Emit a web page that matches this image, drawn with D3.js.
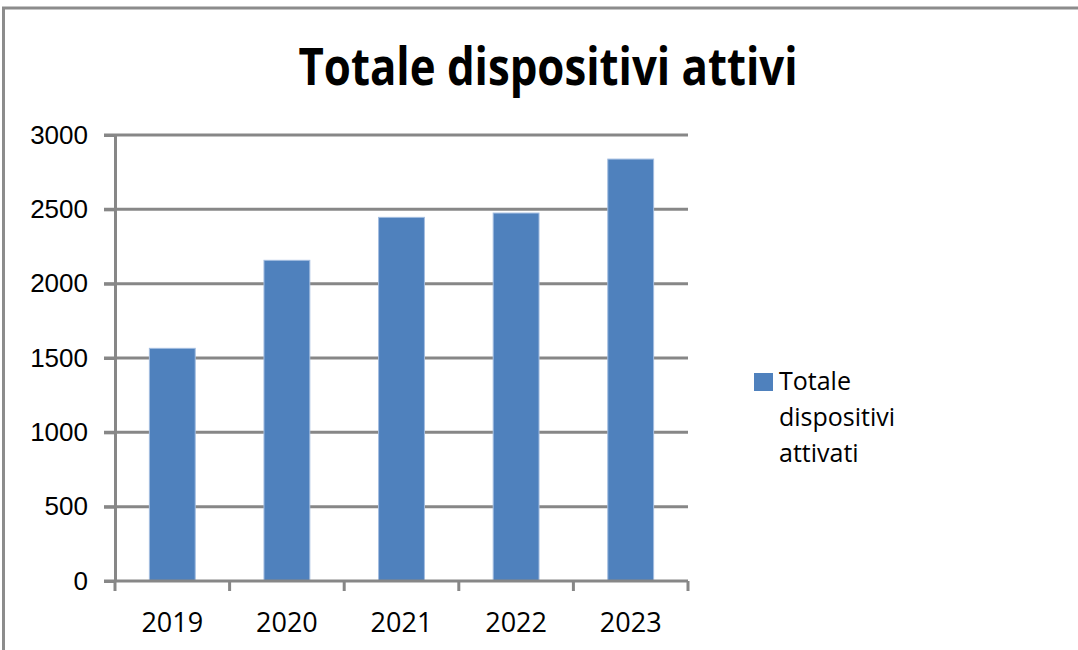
<!DOCTYPE html>
<html lang="it">
<head>
<meta charset="UTF-8">
<title>Totale dispositivi attivi</title>
<style>
  body, html { margin: 0; padding: 0; background: #fff; overflow: hidden; }
  svg { display: block; }
  .grid line { stroke: #878787; stroke-width: 3; }
  .axis path, .axis line { stroke: #878787; stroke-width: 3; }
  .axis text { fill: #000; }
</style>
</head>
<body>
<script src="https://d3js.org/d3.v7.min.js"></script>
<script>
// chart data
const years = ["2019", "2020", "2021", "2022", "2023"];
const attivati = [1565, 2157, 2446, 2475, 2838];
const yTicks = [0, 500, 1000, 1500, 2000, 2500, 3000];
const seriesName = ["Totale", "dispositivi", "attivati"];
const chartTitle = "Totale dispositivi attivi";

const width = 1078, height = 650;
const plot = { left: 115, right: 688, top: 135, bottom: 581 };

const svg = d3.select("body").append("svg")
    .attr("width", width)
    .attr("height", height);

// outer frame (only top and left visible)
svg.append("path")
    .attr("d", `M3.5,${height} L3.5,8 L${width},8`)
    .attr("fill", "none")
    .attr("stroke", "#8c8c8c")
    .attr("stroke-width", 3);

const x = d3.scaleBand()
    .domain(years)
    .range([plot.left, plot.right])
    .paddingInner(0.6)
    .paddingOuter(0.3);

const xOuter = d3.scaleBand()
    .domain(years)
    .range([plot.left, plot.right]);

const y = d3.scaleLinear()
    .domain([0, 3000])
    .range([plot.bottom, plot.top]);

// gridlines
svg.append("g").attr("class", "grid")
    .selectAll("line")
    .data(yTicks.filter(d => d > 0))
    .join("line")
    .attr("x1", plot.left - 11)
    .attr("x2", plot.right)
    .attr("y1", d => y(d))
    .attr("y2", d => y(d));

// bars
svg.append("g")
    .selectAll("rect")
    .data(attivati)
    .join("rect")
    .attr("x", (d, i) => x(years[i]))
    .attr("y", d => y(d))
    .attr("width", x.bandwidth())
    .attr("height", d => y(0) - y(d))
    .attr("fill", "#4F81BD")
    .attr("stroke", "#a3bde0")
    .attr("stroke-width", 1);

// y axis
const yAxis = svg.append("g").attr("class", "axis")
    .attr("transform", `translate(${plot.left},0)`)
    .call(d3.axisLeft(y).tickValues(yTicks).tickFormat(d3.format("d"))
        .tickSize(11).tickSizeOuter(0).tickPadding(16));
yAxis.selectAll("text")
    .style("font-family", "'Liberation Sans', Arial, sans-serif")
    .style("font-size", "26px");

// x axis: ticks on category boundaries
const xAxis = svg.append("g").attr("class", "axis")
    .attr("transform", `translate(0,${plot.bottom})`);
xAxis.append("line")
    .attr("x1", plot.left - 11).attr("x2", plot.right)
    .attr("y1", 0).attr("y2", 0);
xAxis.selectAll("line.tick")
    .data(years.map(d => xOuter(d)).concat([plot.right]))
    .join("line")
    .attr("class", "tick")
    .attr("x1", d => d).attr("x2", d => d)
    .attr("y1", 0).attr("y2", 10);
xAxis.selectAll("text")
    .data(years)
    .join("text")
    .attr("x", d => xOuter(d) + xOuter.bandwidth() / 2)
    .attr("y", 51)
    .attr("text-anchor", "middle")
    .style("font-family", "'Open Sans', sans-serif")
    .style("font-size", "27px")
    .text(d => d);

// title
svg.append("text")
    .attr("x", 548)
    .attr("y", 85)
    .attr("text-anchor", "middle")
    .attr("textLength", 499)
    .attr("lengthAdjust", "spacingAndGlyphs")
    .style("font-family", "'Open Sans', sans-serif")
    .style("font-weight", "bold")
    .style("font-size", "52px")
    .text(chartTitle);

// legend
const legend = svg.append("g");
legend.append("rect")
    .attr("x", 754).attr("y", 373)
    .attr("width", 19).attr("height", 18)
    .attr("fill", "#4F81BD");
legend.selectAll("text")
    .data(seriesName)
    .join("text")
    .attr("x", 779)
    .attr("y", (d, i) => 390 + i * 36)
    .style("font-family", "'Open Sans', sans-serif")
    .style("font-size", "25px")
    .text(d => d);
</script>
</body>
</html>
